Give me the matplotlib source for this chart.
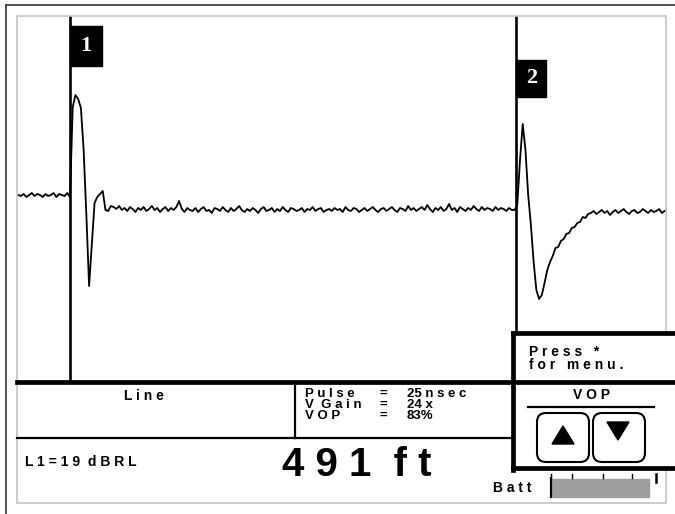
import numpy as np
import matplotlib.pyplot as plt
import matplotlib.transforms as mtransforms
from matplotlib.patches import Rectangle, FancyBboxPatch, Polygon

dist_ft = np.arange(-57, 658, 3)
amp_pre = [1, 0, 2, -1, 1, 3, 0, 2, 1, -1, 2, 0, 1, 3, -1, 2, 1, 0, 3]
amp_pulse1 = [-1, 89, 101, 97, 88, 46, -19, -90, -49, -7, -1, 2, 5, -14, -15, -10]
amp_line = [
    -11, -13, -10, -14, -12, -15, -11, -13, -16, -12,
    -14, -11, -15, -13, -10, -14, -12, -16, -13, -11,
    -15, -12, -14, -11, -5, -13, -16, -12, -14, -15,
    -12, -16, -13, -11, -15, -14, -17, -12, -13, -15,
    -11, -14, -16, -12, -15, -13, -10, -14, -16, -13,
    -15, -12, -14, -17, -13, -11, -15, -14, -12, -16,
    -13, -15, -11, -14, -16, -12, -13, -15, -14, -12,
    -16, -13, -14, -11, -15, -13, -12, -16, -14, -13,
    -15, -12, -14, -13, -16, -11, -14, -15, -12, -13,
    -16, -14, -12, -15, -13, -11, -14, -16, -13, -12,
    -15, -13, -11, -14, -16, -12, -13, -15, -10, -14,
    -12, -15, -13, -11, -14, -9, -13, -16, -12, -14,
    -11, -15, -13, -8, -14, -12, -16, -11, -13, -15,
    -12, -14, -10, -13, -15, -11, -14, -12, -13, -15,
    -11, -14, -12, -13, -15, -12, -14,
]
amp_pulse2 = [-14, -9, 36, 72, 46, 1, -29, -66, -94, -103, -99, -87, -74,
              -66, -60, -52, -51, -45, -43, -38, -37, -32, -31, -27, -26, -21, -22, -18]
amp_tail = [-17, -15, -18, -16, -14, -17, -15, -19, -16, -14,
            -17, -15, -13, -16, -18, -15, -14, -17, -16, -13,
            -15, -17, -14, -16, -15, -13, -17, -15, -14]
amplitude = amp_pre + amp_pulse1 + amp_line + amp_pulse2 + amp_tail

cursor_ft = [0, 491]
cursor_names = ["1", "2"]

# readouts
line_label = "L i n e"
rl_text = "L 1 = 1 9  d B R L"
dist_text = "4 9 1  f t"
settings_names = ["P u l s e", "V  G a i n", "V O P"]
settings_values = ["25 n s e c", "24 x", "83%"]
batt_level = 0.92

W, H = 675, 514
FONT = ['Liberation Sans', 'DejaVu Sans']

fig = plt.figure(figsize=(W / 100, H / 100), dpi=100, facecolor='white')

# waveform area (pixels 17..667 x 16..382)
ax = fig.add_axes([17 / W, 1 - 382 / H, 650 / W, 366 / H])
ax.plot(dist_ft, amplitude, color='black', lw=1.3)
ax.set_xlim(-58.3, 656.7)
ax.set_ylim(-186, 180)
ax.axis('off')

trans = mtransforms.blended_transform_factory(ax.transData, ax.transAxes)
ax.axvline(cursor_ft[0], color='black', lw=1.9)
ax.axvline(cursor_ft[1], ymin=0.13, color='black', lw=1.9)
label_boxes = [(0.863, 0.109, 35), (0.779, 0.101, 33)]
for c, name, (y0, h, w) in zip(cursor_ft, cursor_names, label_boxes):
    ax.add_patch(Rectangle((c, y0), w, h, transform=trans, color='black',
                           clip_on=False))
    ax.text(c + w / 2, y0 + h / 2, name, transform=trans, color='white',
            fontsize=16, fontweight='bold', family='Liberation Serif',
            ha='center', va='center')

# screen furniture in pixel coordinates
ov = fig.add_axes([0, 0, 1, 1], zorder=5)
ov.set_xlim(0, W)
ov.set_ylim(H, 0)
ov.axis('off')

# outer frame and light inner frame
ov.plot([6, W], [5, 5], color='#333333', lw=1.2)
ov.plot([6, 6], [5, H], color='#333333', lw=1.2)
ov.add_patch(Rectangle((17, 16), 649, 487, fill=False, ec='#c4c4c4', lw=1.2))

# right hand boxes
ov.add_patch(Rectangle((513, 333), 170, 135, color='white', zorder=2))
thick = 3.4
ov.plot([17, W], [382, 382], color='black', lw=thick, zorder=3)
ov.plot([513, W], [333, 333], color='black', lw=thick, zorder=3)
ov.plot([513, W], [468, 468], color='black', lw=thick, zorder=3)
ov.plot([513, 513], [333, 470], color='black', lw=thick, zorder=3)
ov.plot([17, 513], [438, 438], color='black', lw=1.6, zorder=3)
ov.plot([295, 295], [382, 438], color='black', lw=1.6, zorder=3)
ov.plot([528, 654], [407, 407], color='black', lw=1.6, zorder=3)

# VOP up / down buttons
for x0 in (537, 593):
    ov.add_patch(FancyBboxPatch((x0, 413), 52, 49,
                                boxstyle='round,pad=0,rounding_size=9',
                                fill=False, ec='black', lw=1.5, zorder=3))
ov.add_patch(Polygon([[552, 444], [574, 444], [563, 426]], color='black', zorder=3))
ov.add_patch(Polygon([[607, 422], [629, 422], [618, 440]], color='black', zorder=3))

# texts
tkw = dict(family=FONT, fontweight='bold', color='black', zorder=4)
ov.text(144, 400, line_label, fontsize=10, ha='center', va='baseline', **tkw)
# multi-line block: baseline refers to the last line here
skw = dict(fontsize=9.5, ha='left', va='baseline', linespacing=0.89, **tkw)
ov.text(305, 419, "\n".join(settings_names), **skw)
ov.text(380, 419, "\n".join(["="] * len(settings_names)), **skw)
ov.text(407, 419, "\n".join(settings_values), **skw)
ov.text(25, 466, rl_text, fontsize=10, ha='left', va='baseline', **tkw)
ov.text(357, 476, dist_text, fontsize=29, ha='center', va='baseline', **tkw)
ov.text(529, 356, "P r e s s   *", fontsize=10, ha='left', va='baseline', **tkw)
ov.text(529, 369, "f o r   m e n u .", fontsize=10, ha='left', va='baseline', **tkw)
ov.text(592, 399, "V O P", fontsize=10, ha='center', va='baseline', **tkw)
ov.text(493, 492, "B a t t", fontsize=10, ha='left', va='baseline', **tkw)

# battery gauge
bx0, bx1 = 551, 656
ov.add_patch(Rectangle((bx0 + 1, 479), (bx1 - bx0) * batt_level, 18,
                       color='#9e9e9e', zorder=3))
ov.plot([bx0, bx0], [478, 497], color='black', lw=1.6, zorder=4)
for tx in (551, 572, 603, 632):
    ov.plot([tx, tx], [474, 478], color='black', lw=1.0, zorder=4)
ov.plot([656, 656], [474, 482], color='black', lw=1.8, zorder=4)

fig.savefig('out.png', dpi=100, facecolor='white')
